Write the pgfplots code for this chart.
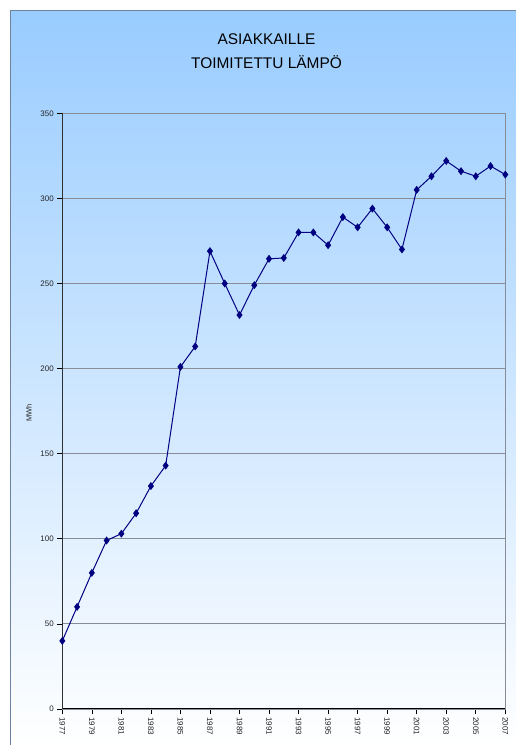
\documentclass[border=0pt]{standalone}
\usepackage{fontspec}
\setmainfont{Liberation Sans}
\usepackage{pgfplots}
\pgfplotsset{compat=1.18}
\definecolor{bgblue}{RGB}{153,204,255}
\definecolor{navy}{RGB}{0,0,128}
\definecolor{framecol}{RGB}{110,130,160}
\definecolor{gridcol}{RGB}{135,140,150}
\begin{document}
\begin{tikzpicture}[x=1bp,y=1bp]
\useasboundingbox (0,0) rectangle (516,745);
\shade[top color=bgblue, bottom color=white] (10.5,0) rectangle (516,734);
\draw[framecol, line width=1bp] (10.5,0) -- (10.5,734) -- (516,734);
\node[font=\fontsize{15.5}{18}\selectfont] at (266.5,705.5) {ASIAKKAILLE};
\node[font=\fontsize{15.5}{18}\selectfont] at (266.5,683) {TOIMITETTU LÄMPÖ};
\node[rotate=90, font=\fontsize{7.5}{9}\selectfont, text=black!85] at (29,332) {MWh};
\begin{axis}[
  at={(62.3bp,36bp)}, anchor=south west,
  scale only axis, width=443bp, height=595.7bp,
  xmin=1977, xmax=2007, ymin=0, ymax=350,
  ytick={0,50,...,350},
  xtick={1977,1979,...,2007},
  ymajorgrids,
  grid style={gridcol, line width=0.8bp},
  axis line style={gridcol, line width=0.8bp},
  tick style={black, line width=0.6bp},
  tick align=outside,
  major tick length=5bp,
  xtick pos=bottom, ytick pos=left,
  /pgf/number format/assume math mode=true,
  /pgf/number format/1000 sep={},
  ticklabel style={font=\fontsize{8}{9}\selectfont, text=black!85},
  xticklabel style={rotate=-90, anchor=west, xshift=0bp},
]
\draw[black, line width=1.2bp] (rel axis cs:0,1) -- (rel axis cs:0,0) -- (rel axis cs:1,0);
\addplot[navy, line width=1bp, mark=diamond*, mark size=3.2bp, mark options={fill=navy, draw=navy}]
coordinates {
(1977,40) (1978,60) (1979,80) (1980,99) (1981,103) (1982,115) (1983,131)
(1984,143) (1985,201) (1986,213) (1987,269) (1988,250) (1989,231.5)
(1990,249) (1991,264.5) (1992,265) (1993,280) (1994,280) (1995,272.5)
(1996,289) (1997,283) (1998,294) (1999,283) (2000,270) (2001,305)
(2002,313) (2003,322) (2004,316) (2005,313) (2006,319) (2007,314)
};
\end{axis}
\end{tikzpicture}
\end{document}
